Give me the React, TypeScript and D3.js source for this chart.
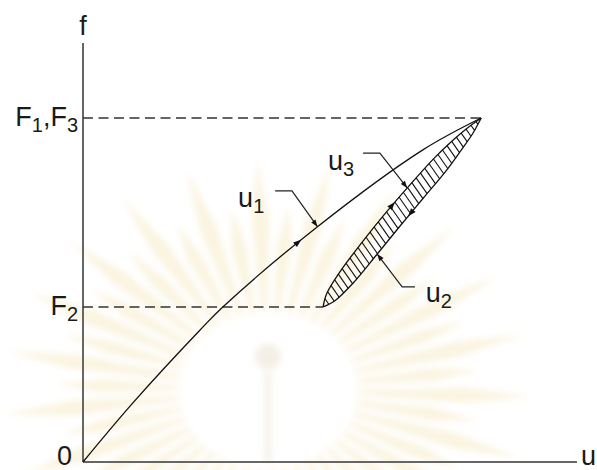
import React, { useEffect, useRef } from "react";
import * as d3 from "d3";

const WIDTH = 597;
const HEIGHT = 470;

// Virgin loading path u1: displacement u (%), force f (%)
const virginU = [0, 10.1, 23.7, 28.3, 47.4, 68.8, 80.6];
const virginF = [0, 14.1, 31.5, 37.0, 56.1, 74.5, 82.1];

// Reloading branch of the hysteresis loop (F2 -> F3)
const reloadU = [48.6, 49.3, 51.9, 56.4, 61.1, 66.0, 71.0, 74.6, 77.7, 80.6];
const reloadF = [37.0, 40.1, 45.2, 52.3, 59.2, 65.9, 72.4, 76.5, 79.6, 82.1];

// Unloading branch (F1 -> F2)
const unloadU = [80.6, 78.9, 76.6, 73.7, 68.9, 64.1, 59.4, 54.6, 51.0, 48.6];
const unloadF = [82.1, 78.4, 74.5, 69.8, 63.0, 56.2, 49.4, 42.6, 38.5, 37.0];

// Force levels marked on the f axis
const levelText = ["F1,F3", "F2"];
const levelF = [82.1, 37.0];
const levelEndU = [80.6, 48.6];

// Curve labels and their leader lines
const curveLabelText = ["u1", "u3", "u2"];
const curveLabelU = [31.4, 49.6, 69.4];
const curveLabelF = [60.9, 69.7, 38.2];
const leaderStartU = [38.9, 56.7, 67.2];
const leaderStartF = [64.7, 73.7, 41.8];
const leaderElbowU = [42.3, 60.1, 64.6];
const leaderElbowF = [64.7, 73.7, 41.8];
const leaderCurve = ["virgin", "reload", "unload"];
const leaderAt = [47.4, 65.4, 49.6]; // u for virgin, f for loop branches

// Flow-direction arrows on each path
const flowCurve = ["virgin", "reload", "unload"];
const flowAt = [43.5, 61.3, 59.4];

const FONT = "'Liberation Sans', Arial, Helvetica, sans-serif";

type Pt = [number, number];

function sample(node: SVGPathElement, n = 600): Pt[] {
  const len = node.getTotalLength();
  const out: Pt[] = [];
  for (let i = 0; i <= n; i++) {
    const p = node.getPointAtLength((len * i) / n);
    out.push([p.x, p.y]);
  }
  return out;
}

function closestIndex(pts: Pt[], axis: 0 | 1, value: number) {
  let best = 0;
  let bd = Infinity;
  pts.forEach((p, i) => {
    const d = Math.abs(p[axis] - value);
    if (d < bd) {
      bd = d;
      best = i;
    }
  });
  return best;
}

function arrowHead(
  g: d3.Selection<SVGGElement, unknown, null, undefined>,
  tip: Pt,
  dir: Pt,
  len = 8,
  half = 3
) {
  const m = Math.hypot(dir[0], dir[1]) || 1;
  const ux = dir[0] / m;
  const uy = dir[1] / m;
  const bx = tip[0] - ux * len;
  const by = tip[1] - uy * len;
  const pts: Pt[] = [
    tip,
    [bx - uy * half, by + ux * half],
    [bx + uy * half, by - ux * half],
  ];
  g.append("path")
    .attr("d", "M" + pts.map((p) => p.join(",")).join("L") + "Z")
    .attr("fill", "#111");
}

function richText(
  g: d3.Selection<SVGGElement, unknown, null, undefined>,
  px: number,
  py: number,
  text: string,
  anchor: string,
  size = 27,
  subSize = 20
) {
  const t = g
    .append("text")
    .attr("x", px)
    .attr("y", py)
    .attr("text-anchor", anchor)
    .attr("font-family", FONT)
    .attr("font-size", size)
    .attr("fill", "#1a1a1a");
  let sub = false;
  const runs: { s: string; sub: boolean }[] = [];
  for (const ch of text) {
    const isSub = /[0-9]/.test(ch);
    if (runs.length && runs[runs.length - 1].sub === isSub) runs[runs.length - 1].s += ch;
    else runs.push({ s: ch, sub: isSub });
  }
  runs.forEach((r) => {
    const ts = t.append("tspan").text(r.s);
    if (r.sub && !sub) ts.attr("dy", 6).attr("font-size", subSize);
    else if (!r.sub && sub) ts.attr("dy", -6);
    sub = r.sub;
  });
}

export default function App() {
  const ref = useRef<SVGSVGElement>(null);

  useEffect(() => {
    const svg = d3.select(ref.current as SVGSVGElement);
    svg.selectAll("*").remove();

    const x = d3.scaleLinear().domain([0, 100]).range([83, 577]);
    const y = d3.scaleLinear().domain([0, 100]).range([462, 43]);

    const defs = svg.append("defs");
    defs
      .append("filter")
      .attr("id", "soft")
      .attr("x", "-20%")
      .attr("y", "-20%")
      .attr("width", "140%")
      .attr("height", "140%")
      .append("feGaussianBlur")
      .attr("stdDeviation", 3);

    // faint sunburst emblem in the background
    const wm = svg.append("g").attr("filter", "url(#soft)").attr("opacity", 0.5);
    const cx = 268;
    const cy = 390;
    const rays = 46;
    for (let i = 0; i < rays; i++) {
      const a = (i / rays) * 2 * Math.PI + 0.03;
      const r0 = 78;
      const r1 = i % 2 ? 185 : 230;
      const rm = (r0 + r1) * 0.55;
      const w0 = 0.03;
      const wmid = 0.045;
      const P = (r: number, ang: number): Pt => [cx + r * Math.cos(ang) * 1.15, cy + r * Math.sin(ang)];
      const pts = [P(r0, a - w0), P(rm, a - wmid), P(r1, a), P(rm, a + wmid), P(r0, a + w0)];
      wm.append("path")
        .attr("d", "M" + pts.map((p) => p.join(",")).join("L") + "Z")
        .attr("fill", "#f6e9c2");
    }
    wm.append("circle").attr("cx", cx).attr("cy", 357).attr("r", 13).attr("fill", "#e9e1cf");
    wm.append("rect").attr("x", cx - 4).attr("y", 372).attr("width", 8).attr("height", 90).attr("fill", "#efe8da");

    const g = svg.append("g");

    // axes
    g.append("line")
      .attr("x1", x(0)).attr("x2", x(0))
      .attr("y1", y(0)).attr("y2", y(100))
      .attr("stroke", "#666").attr("stroke-width", 2);
    g.append("line")
      .attr("x1", x(0)).attr("x2", x(100))
      .attr("y1", y(0)).attr("y2", y(0))
      .attr("stroke", "#666").attr("stroke-width", 2);

    // force level guides
    levelF.forEach((f, i) => {
      g.append("line")
        .attr("x1", x(0)).attr("x2", x(levelEndU[i]))
        .attr("y1", y(f)).attr("y2", y(f))
        .attr("stroke", "#333").attr("stroke-width", 1.5)
        .attr("stroke-dasharray", "10,5.5");
      richText(g, x(0) - 5, y(f) + 8, levelText[i], "end");
    });

    // axis names and origin
    richText(g, x(0), y(100) - 8, "f", "middle");
    richText(g, x(100) + 4, y(0) + 3, "u", "start");
    g.append("text")
      .attr("x", x(0) - 11).attr("y", y(0) + 3)
      .attr("text-anchor", "end")
      .attr("font-family", FONT).attr("font-size", 27).attr("fill", "#1a1a1a")
      .text("0");

    const line = d3
      .line<number>()
      .curve(d3.curveCatmullRom.alpha(0.5));

    const mkPath = (us: number[], fs: number[]) =>
      line.x((_, i) => x(us[i])).y((_, i) => y(fs[i]))(us.map((_, i) => i)) as string;

    const virginPath = g.append("path")
      .attr("d", mkPath(virginU, virginF))
      .attr("fill", "none").attr("stroke", "#111").attr("stroke-width", 1.3);
    const reloadPath = g.append("path")
      .attr("d", mkPath(reloadU, reloadF))
      .attr("fill", "none").attr("stroke", "#111").attr("stroke-width", 1.3);
    const unloadPath = g.append("path")
      .attr("d", mkPath(unloadU, unloadF))
      .attr("fill", "none").attr("stroke", "#111").attr("stroke-width", 1.3);

    const samples: Record<string, Pt[]> = {
      virgin: sample(virginPath.node() as SVGPathElement),
      reload: sample(reloadPath.node() as SVGPathElement),
      unload: sample(unloadPath.node() as SVGPathElement),
    };

    // hatching inside the loop
    const loopPoly = samples.reload.concat(samples.unload);
    defs.append("clipPath").attr("id", "loopClip")
      .append("path")
      .attr("d", "M" + loopPoly.map((p) => p.join(",")).join("L") + "Z");
    const A: Pt = [x(reloadU[0]), y(reloadF[0])];
    const B: Pt = [x(reloadU[reloadU.length - 1]), y(reloadF[reloadF.length - 1])];
    const hatch = g.append("g").attr("clip-path", "url(#loopClip)");
    const N = 38;
    const h: Pt = [0.57, 0.82];
    for (let k = 1; k < N; k++) {
      const px = A[0] + ((B[0] - A[0]) * k) / N;
      const py = A[1] + ((B[1] - A[1]) * k) / N;
      hatch.append("line")
        .attr("x1", px - 25 * h[0]).attr("y1", py - 25 * h[1])
        .attr("x2", px + 25 * h[0]).attr("y2", py + 25 * h[1])
        .attr("stroke", "#111").attr("stroke-width", 1.1);
    }

    const locate = (curve: string, at: number) => {
      const pts = samples[curve];
      const idx = curve === "virgin" ? closestIndex(pts, 0, x(at)) : closestIndex(pts, 1, y(at));
      const a = pts[Math.max(0, idx - 3)];
      const b = pts[Math.min(pts.length - 1, idx + 3)];
      return { p: pts[idx], dir: [b[0] - a[0], b[1] - a[1]] as Pt };
    };

    // flow arrows
    flowCurve.forEach((c, i) => {
      const { p, dir } = locate(c, flowAt[i]);
      const m = Math.hypot(dir[0], dir[1]);
      arrowHead(g, [p[0] + (dir[0] / m) * 4, p[1] + (dir[1] / m) * 4], dir, 8, 3);
    });

    // labels with leaders
    curveLabelText.forEach((t, i) => {
      richText(g, x(curveLabelU[i]), y(curveLabelF[i]), t, "start");
      const s: Pt = [x(leaderStartU[i]), y(leaderStartF[i])];
      const e: Pt = [x(leaderElbowU[i]), y(leaderElbowF[i])];
      const { p } = locate(leaderCurve[i], leaderAt[i]);
      g.append("path")
        .attr("d", `M${s[0]},${s[1]}L${e[0]},${e[1]}L${p[0]},${p[1]}`)
        .attr("fill", "none").attr("stroke", "#222").attr("stroke-width", 1.2);
      arrowHead(g, p, [p[0] - e[0], p[1] - e[1]], 7, 2.6);
    });
  }, []);

  return (
    <svg
      ref={ref}
      width={WIDTH}
      height={HEIGHT}
      viewBox={`0 0 ${WIDTH} ${HEIGHT}`}
      style={{ position: "absolute", left: 0, top: 0, background: "#fff", display: "block" }}
    />
  );
}
